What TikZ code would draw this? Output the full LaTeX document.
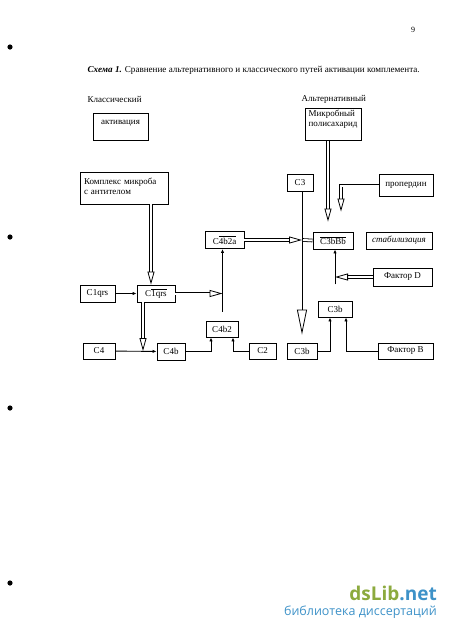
\documentclass[tikz,border=0pt]{standalone}
\usepackage{fontspec}
\setmainfont{Liberation Serif}
\newfontfamily\wmfont{Open Sans}
\usetikzlibrary{arrows.meta}
\definecolor{libgreen}{RGB}{140,170,62}
\definecolor{libblue}{RGB}{62,146,200}
\begin{document}
\begin{tikzpicture}[x=1pt,y=-1pt,
	box/.style={draw,line width=.9pt,inner sep=2pt,minimum height=17pt,font=\fontsize{9}{10}\selectfont},
	tip/.style={line width=.9pt,-{Latex[length=4pt,width=3.4pt]}},
	hollow/.style={line width=.8pt,double,double distance=2pt,-{Triangle[open,length=13pt,width=7pt,line width=.8pt]}},
	dbl/.style={line width=.8pt,double,double distance=2pt}]
	\useasboundingbox(0,0)rectangle(450,633);
	\node[font=\fontsize{8}{9}\selectfont](pg)at(413,30){9};
	\foreach \y in {47,237,408,583}\fill(10,\y)circle(2.6);
	\node[anchor=west,font=\fontsize{9.1}{11}\selectfont](ttl)at(84,70){\textbf{\textit{Схема 1.}} Сравнение альтернативного и классического путей активации комплемента.};
	\node[anchor=west,font=\fontsize{9}{10}\selectfont](kl)at(84,99){Классический};
	\node[anchor=west,font=\fontsize{9}{10}\selectfont](al)at(298,99){Альтернативный};
	\node[box,minimum width=55pt,minimum height=27pt,text depth=9pt](act)at(120.5,126.5){активация};
	\node[box,minimum width=56pt,minimum height=27pt,align=left,text depth=12pt](poly)at(333,124.5){Микробный\\полисахарид};
	\node[box,minimum width=88pt,minimum height=32pt,text width=80pt,align=left,text depth=14pt](cplx)at(124,188){Комплекс микроба\\с антителом};
	\node[box,minimum width=26pt](c3)at(300,182.5){C3};
	\node[box,minimum width=54pt,minimum height=22pt](prop)at(406,185.5){пропердин};
	\node[box,minimum width=39pt](c4b2a)at(224.5,240){C$\overline{\mbox{4b2a}}$};
	\node[box,minimum width=40pt](c3bbb)at(333,240.5){$\overline{\mbox{C3bBb}}$};
	\node[box,minimum width=66pt](stab)at(399,240.5){\textit{стабилизация}};
	\node[box,minimum width=59pt,minimum height=18pt](facD)at(402.5,277){Фактор D};
	\node[box,minimum width=35pt](c1)at(97.5,293.5){C1qrs};
	\node[box,minimum width=38pt](c1bar)at(156,293.5){C$\overline{\mbox{1qrs}}$};
	\node[box,minimum width=34pt,minimum height=16pt](c3up)at(335,309){C3b};
	\node[box,minimum width=32pt,minimum height=16pt](c4b2)at(222,329){C4b2};
	\node[box,minimum width=32pt,minimum height=16pt](c4)at(99,351){C4};
	\node[box,minimum width=28pt](c4b)at(171,351.5){C4b};
	\node[box,minimum width=27pt,minimum height=16pt](c2)at(262.5,351){C2};
	\node[box,minimum width=30pt,minimum height=16pt](c3low)at(302,351){C3b};
	\node[box,minimum width=55pt,minimum height=16pt](facB)at(405.5,351){Фактор B};
	\coordinate(a1)at([xshift=-5pt]c1bar.north);
	\draw[hollow](cplx.south -| a1)--(a1);
	\draw[hollow]([xshift=-5pt]poly.south)--([xshift=-5pt,yshift=10pt]c3bbb.north);
	\draw[hollow](prop.west)-|([xshift=8pt,yshift=20pt]c3bbb.north);
	\draw[line width=.8pt,-{Triangle[open,length=25pt,width=10pt,line width=.8pt]}](c3.south -| c3low.north)--([yshift=8pt]c3low.north);
	\coordinate(m1)at(c4b2a.east -| c3low.north);
	\draw[hollow](c4b2a.east)--(m1);
	\draw[dbl]([xshift=1pt]m1)--(c3bbb.west);
	\draw[tip](c1)--(c1bar);
	\coordinate(v1)at([xshift=-2pt]c4b2a.south);
	\draw[tip]([yshift=-63pt]v1)--(v1);
	\draw[hollow](c1bar.east)--(c1bar.east -| v1);
	\coordinate(a2)at([xshift=-13pt]c1bar.south);
	\draw[tip](c4)--(c4b);
	\draw[hollow](a2)--(a2 |- c4.east);
	\draw[tip](c4b.east)-|([xshift=-11pt]c4b2.south);
	\draw[tip](c2.west)-|([xshift=11pt]c4b2.south);
	\draw[tip](c3low.east)-|([xshift=-5pt]c3up.south);
	\draw[tip](facB.west)-|([xshift=11pt]c3up.south);
	\coordinate(v2)at([xshift=2pt]c3bbb.south);
	\draw[tip]([yshift=-35pt]v2)--(v2);
	\draw[hollow](facD.west)--(facD.west -| v2);
	\node[anchor=base east,font=\wmfont\bfseries\fontsize{19}{20}\selectfont,inner sep=0pt](wm)at(437,600){\textcolor{libgreen}{dsLib}\textcolor{libblue}{.net}};
	\node[anchor=base east,font=\wmfont\fontsize{12.5}{14}\selectfont,text=libblue,inner sep=0pt](wm2)at(437,615){библиотека диссертаций};
\end{tikzpicture}
\end{document}
